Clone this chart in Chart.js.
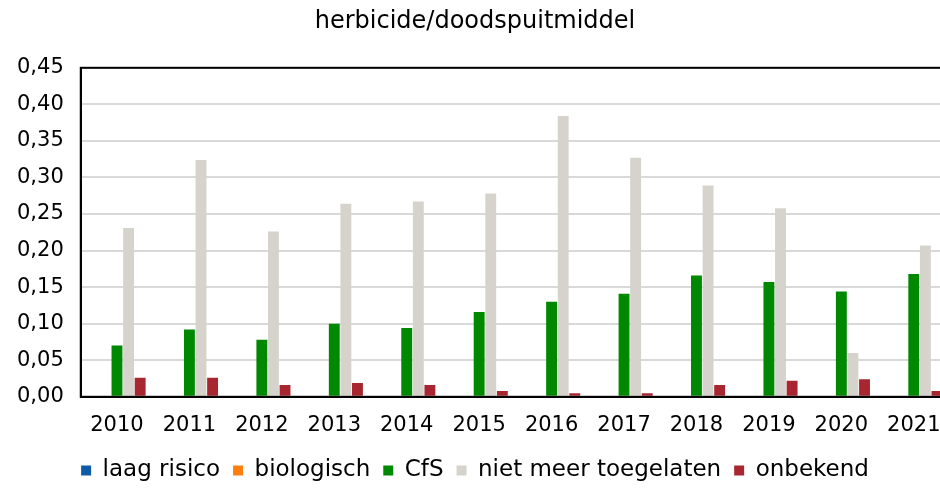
<!DOCTYPE html>
<html>
<head>
<meta charset="utf-8">
<script src="https://cdn.jsdelivr.net/npm/chart.js@4"></script>
<style>
  html, body { margin: 0; padding: 0; background: #fff; overflow: hidden; }
  #wrap { width: 950px; height: 492px; }
</style>
</head>
<body>
<div id="wrap"><canvas id="chart"></canvas></div>
<script>
// data
const years = ['2010','2011','2012','2013','2014','2015','2016','2017','2018','2019','2020','2021'];
const laagRisico = [0,0,0,0,0,0,0,0,0,0,0,0];
const biologisch = [0,0,0,0,0,0,0,0,0,0,0,0];
const cfs = [0.070,0.092,0.078,0.100,0.094,0.116,0.130,0.141,0.166,0.157,0.144,0.168];
const nietMeer = [0.231,0.324,0.226,0.264,0.267,0.278,0.384,0.327,0.289,0.258,0.060,0.207];
const onbekend = [0.026,0.026,0.016,0.019,0.016,0.008,0.005,0.005,0.016,0.022,0.024,0.008];

Chart.defaults.font.family = 'DejaVu Sans, Verdana, sans-serif';
Chart.defaults.color = '#000';

// frame round the plot area
const frame = {
    id: 'frame',
    afterDraw(chart) {
        const a = chart.chartArea, ctx = chart.ctx;
        ctx.save();
        ctx.strokeStyle = '#000';
        ctx.lineWidth = 2;
        ctx.strokeRect(a.left, a.top, a.right - a.left, a.bottom - a.top);
        ctx.restore();
    }
};

function ds(label, data, color) {
    return {
        label: label,
        data: data,
        backgroundColor: color,
        borderWidth: 0,
        barPercentage: 0.94,
        categoryPercentage: 0.8
    };
}

new Chart(document.getElementById('chart'), {
    type: 'bar',
    data: {
        labels: years,
        datasets: [
            ds('laag risico', laagRisico, '#0f5aa6'),
            ds('biologisch', biologisch, '#ff7f0e'),
            ds('CfS', cfs, '#008800'),
            ds('niet meer toegelaten', nietMeer, '#d5d3cb'),
            ds('onbekend', onbekend, '#a8262f')
        ]
    },
    options: {
        responsive: true,
        maintainAspectRatio: false,
        animation: false,
        layout: { padding: { left: 0, right: 0, top: 7, bottom: 0 } },
        plugins: {
            title: {
                display: true,
                text: 'herbicide/doodspuitmiddel',
                font: { size: 24, weight: 'normal' },
                color: '#000',
                padding: { top: 0, bottom: 32 }
            },
            legend: {
                position: 'bottom',
                labels: {
                    boxWidth: 10,
                    boxHeight: 10,
                    padding: 13,
                    font: { size: 23 },
                    color: '#000'
                }
            },
            tooltip: { enabled: false }
        },
        scales: {
            x: {
                grid: { display: false },
                border: { color: '#000', width: 2 },
                ticks: { font: { size: 21 }, color: '#000', maxRotation: 0, padding: 8 }
            },
            y: {
                min: 0,
                max: 0.45,
                grid: { color: '#d9d9d9', lineWidth: 2, drawTicks: false },
                border: { color: '#000', width: 2 },
                ticks: {
                    stepSize: 0.05,
                    font: { size: 21 },
                    color: '#000',
                    padding: 17,
                    callback: v => v.toFixed(2).replace('.', ',')
                }
            }
        }
    },
    plugins: [frame]
});
</script>
</body>
</html>
